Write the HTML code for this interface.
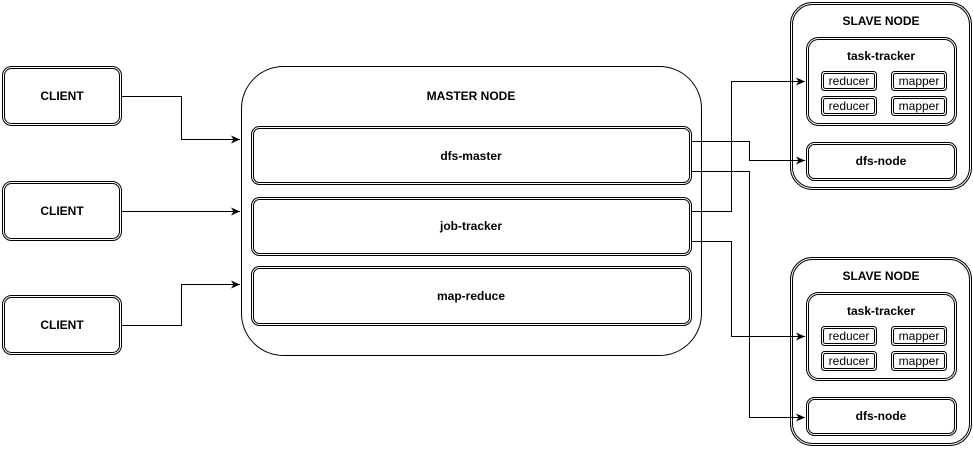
<!DOCTYPE html>
<html><head><meta charset="utf-8"><style>
html,body{margin:0;padding:0;background:#fff;}
svg{display:block;}
text{font-family:"Liberation Sans",Arial,sans-serif;font-weight:bold;font-size:12px;fill:#000;text-anchor:middle;}
.n{font-weight:normal;font-size:12px;}
</style></head><body>
<svg width="973" height="451" viewBox="0 0 973 451" xmlns="http://www.w3.org/2000/svg">
<defs>
<marker id="a" markerWidth="10" markerHeight="8" refX="9" refY="4" orient="auto" markerUnits="userSpaceOnUse">
<path d="M0,0 L9,4 L0,8 L2.5,4 Z" fill="#000"/>
</marker>
</defs>
<g fill="none" stroke="#000" stroke-width="1">
<!-- clients -->
<rect x="2.5" y="66.5" width="119" height="59" rx="9"/><rect x="4.5" y="68.5" width="115" height="55" rx="7"/>
<rect x="2.5" y="181.5" width="119" height="59" rx="9"/><rect x="4.5" y="183.5" width="115" height="55" rx="7"/>
<rect x="2.5" y="295.5" width="119" height="59" rx="9"/><rect x="4.5" y="297.5" width="115" height="55" rx="7"/>
<!-- master -->
<rect x="241.5" y="66.5" width="460" height="289" rx="42"/>
<rect x="251.5" y="126.5" width="440" height="58" rx="8"/><rect x="253.5" y="128.5" width="436" height="54" rx="6"/>
<rect x="251.5" y="197.5" width="440" height="58" rx="8"/><rect x="253.5" y="199.5" width="436" height="54" rx="6"/>
<rect x="251.5" y="266.5" width="440" height="59" rx="8"/><rect x="253.5" y="268.5" width="436" height="55" rx="6"/>
<!-- slave 1 -->
<rect x="790.5" y="2.5" width="181" height="187" rx="22"/><rect x="792.5" y="4.5" width="177" height="183" rx="20"/>
<rect x="806.5" y="37.5" width="150" height="88" rx="12"/><rect x="808.5" y="39.5" width="146" height="84" rx="10"/>
<rect x="821.5" y="71.5" width="55" height="19" rx="3"/><rect x="823.5" y="73.5" width="51" height="15" rx="2"/>
<rect x="891.5" y="71.5" width="55" height="19" rx="3"/><rect x="893.5" y="73.5" width="51" height="15" rx="2"/>
<rect x="821.5" y="96.5" width="55" height="19" rx="3"/><rect x="823.5" y="98.5" width="51" height="15" rx="2"/>
<rect x="891.5" y="96.5" width="55" height="19" rx="3"/><rect x="893.5" y="98.5" width="51" height="15" rx="2"/>
<rect x="806.5" y="142.5" width="150" height="38" rx="8"/><rect x="808.5" y="144.5" width="146" height="34" rx="6"/>
<!-- slave 2 -->
<rect x="790.5" y="257.5" width="181" height="188" rx="22"/><rect x="792.5" y="259.5" width="177" height="184" rx="20"/>
<rect x="806.5" y="292.5" width="150" height="88" rx="12"/><rect x="808.5" y="294.5" width="146" height="84" rx="10"/>
<rect x="821.5" y="326.5" width="55" height="19" rx="3"/><rect x="823.5" y="328.5" width="51" height="15" rx="2"/>
<rect x="891.5" y="326.5" width="55" height="19" rx="3"/><rect x="893.5" y="328.5" width="51" height="15" rx="2"/>
<rect x="821.5" y="351.5" width="55" height="19" rx="3"/><rect x="823.5" y="353.5" width="51" height="15" rx="2"/>
<rect x="891.5" y="351.5" width="55" height="19" rx="3"/><rect x="893.5" y="353.5" width="51" height="15" rx="2"/>
<rect x="806.5" y="397.5" width="150" height="38" rx="8"/><rect x="808.5" y="399.5" width="146" height="34" rx="6"/>
<!-- connectors -->
<path d="M122,96.5 H181.5 V139.5 H240" marker-end="url(#a)"/>
<path d="M122,211.5 H240" marker-end="url(#a)"/>
<path d="M122,325.5 H181.5 V284.5 H240" marker-end="url(#a)"/>
<path d="M692,141.5 H749.5 V160.5 H805" marker-end="url(#a)"/>
<path d="M692,171.5 H749.5 V417.5 H805" marker-end="url(#a)"/>
<path d="M692,211.5 H731.5 V81.5 H805" marker-end="url(#a)"/>
<path d="M692,241.5 H731.5 V336.5 H805" marker-end="url(#a)"/>
</g>
<text x="62" y="100">CLIENT</text>
<text x="62" y="215">CLIENT</text>
<text x="62" y="329">CLIENT</text>
<text x="471" y="100">MASTER NODE</text>
<text x="471" y="160">dfs-master</text>
<text x="471" y="230">job-tracker</text>
<text x="471" y="300">map-reduce</text>
<text x="881" y="25">SLAVE NODE</text>
<text x="881" y="60">task-tracker</text>
<text class="n" x="849" y="85">reducer</text><text class="n" x="919" y="85">mapper</text>
<text class="n" x="849" y="110">reducer</text><text class="n" x="919" y="110">mapper</text>
<text x="881" y="165">dfs-node</text>
<text x="881" y="280">SLAVE NODE</text>
<text x="881" y="315">task-tracker</text>
<text class="n" x="849" y="340">reducer</text><text class="n" x="919" y="340">mapper</text>
<text class="n" x="849" y="365">reducer</text><text class="n" x="919" y="365">mapper</text>
<text x="881" y="420">dfs-node</text>
</svg>
</body></html>
